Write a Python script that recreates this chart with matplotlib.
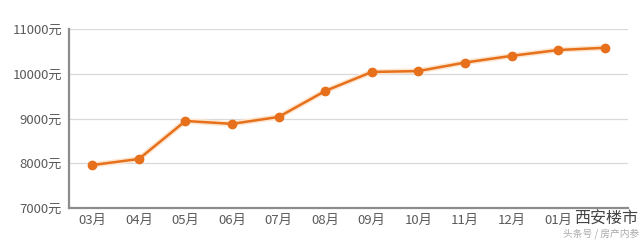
import matplotlib
matplotlib.use("Agg")
import matplotlib.pyplot as plt

plt.rcParams['font.family'] = ['Noto Sans CJK SC', 'DejaVu Sans']

months = ['03月', '04月', '05月', '06月', '07月', '08月', '09月', '10月', '11月', '12月', '01月', '02月']
prices = [7960, 8095, 8945, 8880, 9035, 9615, 10040, 10060, 10250, 10400, 10530, 10580]
yticks = [7000, 8000, 9000, 10000, 11000]
ylabels = [str(v) + '元' for v in yticks]

fig = plt.figure(figsize=(6.43, 2.41), dpi=100)
ax = fig.add_axes([69 / 643, 33 / 241, 559 / 643, 179 / 241])

x = list(range(len(months)))
ax.plot(x, prices, color='#fde6cf', linewidth=4, zorder=2)
ax.plot(x, prices, color='#e6701b', linewidth=1.8, marker='o', markersize=6,
        markeredgecolor='#e6701b', zorder=3)

ax.set_xlim(-0.5, 11.5)
ax.set_ylim(7000, 11000)
ax.set_yticks(yticks)
ax.set_yticklabels(ylabels)
ax.set_xticks(x)
# last month label is covered by the watermark in the original
ax.set_xticklabels(months[:-1] + [''])

ax.grid(axis='y', color='#d9d9d9', linewidth=0.9)
ax.set_axisbelow(True)
for side in ['top', 'right']:
    ax.spines[side].set_visible(False)
for side in ['left', 'bottom']:
    ax.spines[side].set_color('#8c8c8c')
    ax.spines[side].set_linewidth(1.6)
ax.tick_params(axis='both', length=0, labelsize=9.5, colors='#5a5a5a', pad=5)
ax.tick_params(axis='x', pad=4)

# watermark
fig.text(0.9425, 0.09, '西安楼市', fontsize=11.5, color='#444444', ha='center', va='center')
fig.text(0.935, 0.03, '头条号 / 房产内参', fontsize=7, color='#aaaaaa', ha='center', va='center')

fig.savefig('out.png', dpi=100, facecolor='white')
